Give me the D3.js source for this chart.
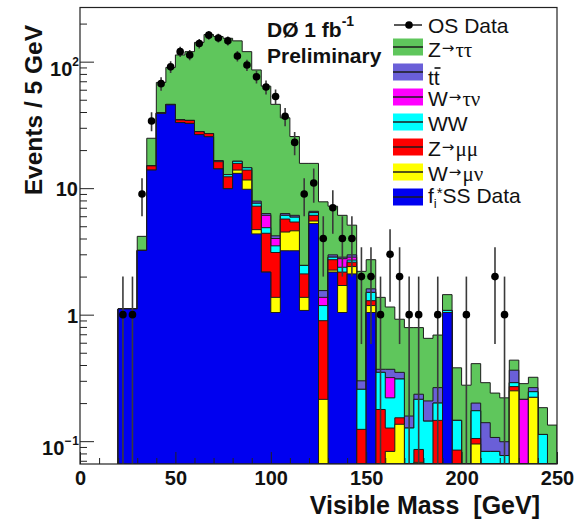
<!DOCTYPE html>
<html>
<head>
<meta charset="utf-8">
<script src="https://cdn.jsdelivr.net/npm/d3@7"></script>
<style>
  body { margin: 0; background: #fff; }
  svg text { font-family: "Liberation Sans", Arial, Helvetica, sans-serif; fill: #111; }
</style>
</head>
<body>
<svg id="chart" width="576" height="522"></svg>
<script>
// bins of 5 GeV, low edges
const binLow = [20, 25, 30, 35, 40, 45, 50, 55, 60, 65, 70, 75, 80, 85, 90, 95, 100, 105, 110, 115,
    120, 125, 130, 135, 140, 145, 150, 155, 160, 165, 170, 175, 180, 185, 190, 195, 200, 205, 210, 215,
    220, 225, 230, 235, 240, 245];

// stacked backgrounds, bottom to top
const ssData = [1.11, 1.11, 3.22, 13.9, 39, 45.6, 33, 32.5, 26.5, 25.5, 14.2, 9.9, 13.1, 9.8, 4.35, 2.17, 1.04, 3.2, 3.2, 1.08,
    5.25, 0, 2.17, 1.04, 2.1, 0, 1.04, 0, 0, 0, 0, 0, 0, 0, 1.04, 0, 0, 0, 0, 0, 0, 0, 0, 0, 0, 0];
const wMuNu = [0, 0, 0, 0, 0, 0, 0, 0, 0, 0, 0, 0, 0.8, 1.8, 0.35, 0, 0.33, 1.3, 1.4, 0.29,
    0.25, 0.214, 0.08, 0.66, 0.3, 0, 0.14, 0, 0.083, 0.136, 0, 0.068, 0, 0, 0, 0, 0, 0.095, 0, 0, 0, 0.25, 0, 0.222, 0, 0];
const zMuMu = [0, 0, 0, 1.1, 0.3, 0.3, 1.6, 1.8, 1.5, 1.5, 2.0, 2.4, 1.8, 2.3, 2.5, 2.23, 1.73, 1.2, 0.8, 0.73,
    0.6, 0.682, 0.47, 0.47, 0.2, 0.124, 0.11, 0.178, 0.044, 0.017, 0, 0.018, 0, 0.146, 0, 0.085, 0, 0.01, 0, 0, 0, 0.02, 0, 0, 0, 0];
const ww = [0, 0, 0, 0, 0, 0, 0, 0, 0, 0, 0.3, 0.5, 0.6, 0.6, 0.4, 0.47, 0.4, 0.4, 0.5, 0.35,
    0.3, 0.284, 0.13, 0.2, 0.1, 0.133, 0.21, 0.172, 0.093, 0.157, 0.127, 0.128, 0.144, 0.054, 0.04, 0.061, 0, 0.069, 0.083, 0.083, 0.077, 0.02, 0, 0.024, 0.113, 0];
const wTauNu = [0, 0, 0, 0, 0, 0, 0, 0, 0, 0, 0, 0, 0, 0, 0, 1.23, 0.5, 0, 0, 0,
    0, 0.19, 0, 0.4, 0.15, 0, 0, 0, 0.098, 0, 0, 0, 0, 0, 0, 0, 0, 0, 0, 0, 0, 0, 0.214, 0, 0, 0];
const ttbar = [0, 0, 0, 0, 0, 0, 0, 0, 0, 0, 0, 0, 0, 0, 0.3, 0.2, 0.2, 0.2, 0.2, 0,
    0.16, 0.18, 0.12, 0.08, 0.12, 0.043, 0.1, 0.02, 0.052, 0.04, 0.031, 0.021, 0.064, 0.065, 0, 0, 0, 0.026, 0.057, 0.024, 0.022, 0.074, 0, 0.019, 0, 0];
const zTauTau = [0, 0, 0.94, 9.8, 29.2, 44.1, 78.4, 85.7, 114, 137, 141.5, 140.2, 129.7, 105.5, 78.1, 57.7, 41.8, 29.7, 19.5, 13.25,
    9.14, 6.25, 4.23, 3.25, 2.13, 1.9, 1.12, 1.0, 0.78, 0.57, 0.632, 0.555, 0.442, 0.425, 0.36, 0.234, 0.277, 0.21, 0.15, 0.133, 0.121, 0.073, 0.071, 0.055, 0.071, 0.134];

// opposite-sign data counts
const osData = [1, 1, 9, 34, 67, 91, 120, 113, 139, 162, 154, 146, 111, 94, 76, 63, 53, 37, 23, 9,
    11, 4, 7, 4, 4, 2, 2, 1, 3, 2, 1, 1, 0, 1, 0, 0, 1, 0, 0, 2, 1, 0, 0, 0, 0, 0];

const xTickValues = [0, 50, 100, 150, 200, 250];
const yTickValues = [0.1, 1, 10, 100];
const yTickText = [['10', '-1'], ['1', ''], ['10', ''], ['10', '2']];

const binWidth = 5;
const xMax = 250;
const yMin = 0.066, yMax = 268;

const keys = ['ss', 'wmn', 'zmm', 'ww', 'wtn', 'tt', 'ztt'];
const colors = {
    ss: '#0000f0', wmn: '#ffff00', zmm: '#ff0000', ww: '#00ffff',
    wtn: '#ff00ff', tt: '#6a5fd8', ztt: '#5fc65c'
};

const svg = d3.select('#chart');
const frameL = 80, frameR = 557, frameT = 7.5, frameB = 464;

const x = d3.scaleLinear().domain([0, xMax]).range([frameL, frameR]);
const y = d3.scaleLog().domain([yMin, yMax]).range([frameB, frameT]).clamp(true);
const yv = v => y(Math.max(v, yMin));

svg.append('defs').append('clipPath').attr('id', 'frame-clip')
    .append('rect').attr('x', frameL).attr('y', frameT)
    .attr('width', frameR - frameL).attr('height', frameB - frameT);

// Stack
const rows = binLow.map((lo, i) => ({
    lo, ss: ssData[i], wmn: wMuNu[i], zmm: zMuMu[i], ww: ww[i],
    wtn: wTauNu[i], tt: ttbar[i], ztt: zTauTau[i]
}));
const layers = d3.stack().keys(keys)(rows);

const area = d3.area()
    .curve(d3.curveStepAfter)
    .x(d => x(d.lo))
    .y0(frameB)
    .y1(d => yv(d.top));

const plot = svg.append('g').attr('clip-path', 'url(#frame-clip)');

// draw cumulative histograms from the top of the stack down (THStack style)
layers.slice().reverse().forEach(layer => {
    const steps = layer.map((d, i) => ({ lo: binLow[i], top: d[1] }));
    steps.push({ lo: binLow[binLow.length - 1] + binWidth, top: steps[steps.length - 1].top });
    plot.append('path')
        .datum(steps)
        .attr('d', area)
        .attr('fill', colors[layer.key])
        .attr('stroke', '#1c1c1c')
        .attr('stroke-width', 1);
});

// Data points with sqrt(N) errors
const pts = binLow.map((lo, i) => ({ xc: lo + binWidth / 2, n: osData[i] })).filter(d => d.n > 0);
plot.selectAll('line.err').data(pts).enter().append('line')
    .attr('class', 'err')
    .attr('x1', d => x(d.xc)).attr('x2', d => x(d.xc))
    .attr('y1', d => yv(d.n + Math.sqrt(d.n)))
    .attr('y2', d => yv(d.n - Math.sqrt(d.n)))
    .attr('stroke', '#3a3a3a').attr('stroke-width', 1.6);
plot.selectAll('circle.pt').data(pts).enter().append('circle')
    .attr('class', 'pt')
    .attr('cx', d => x(d.xc)).attr('cy', d => yv(d.n))
    .attr('r', 3.8).attr('fill', '#000');

// Axes (ticks inside the frame)
const gx = svg.append('g').attr('transform', `translate(0,${frameB})`)
    .call(d3.axisBottom(x).tickValues(xTickValues).tickSize(-12).tickPadding(6.5).tickFormat(d3.format('d')));
svg.append('g').attr('transform', `translate(0,${frameB})`)
    .call(d3.axisBottom(x).tickValues(x.ticks(25).filter(v => v % 50 !== 0)).tickSize(-6).tickFormat(''));
svg.append('g').attr('transform', `translate(${frameL},0)`)
    .call(d3.axisLeft(y).tickValues(yTickValues).tickSize(-14).tickFormat(''));
svg.append('g').attr('transform', `translate(${frameL},0)`)
    .call(d3.axisLeft(y).tickValues(y.ticks().filter(v => !yTickValues.some(t => Math.abs(t - v) < 1e-9))).tickSize(-7).tickFormat(''));

svg.selectAll('.domain').remove();
svg.selectAll('.tick line').attr('stroke', '#222').attr('stroke-width', 1);
gx.selectAll('text')
    .style('font-size', '20px').style('font-weight', 'bold').attr('fill', '#111');

// Y tick labels with exponents
yTickValues.forEach((v, i) => {
    const [base, exp] = yTickText[i];
    const t = svg.append('text')
        .attr('x', exp ? 79 : 78)
        .attr('y', y(v) + (exp ? 14 : 8))
        .attr('text-anchor', 'end')
        .style('font-size', '20px').style('font-weight', 'bold')
        .text(base);
    if (exp) {
        t.append('tspan').attr('dy', -10)
            .style('font-size', '12px').text(exp === '-1' ? '\u2212\u200a1' : exp);
    }
});

// Frame
svg.append('rect')
    .attr('x', frameL).attr('y', frameT)
    .attr('width', frameR - frameL).attr('height', frameB - frameT)
    .attr('fill', 'none').attr('stroke', '#222').attr('stroke-width', 1.2);

// Axis titles
svg.append('text')
    .attr('x', 540).attr('y', 514)
    .attr('text-anchor', 'end')
    .style('font-size', '25px').style('font-weight', 'bold')
    .text('Visible Mass\u00a0\u00a0[GeV]');
svg.append('text')
    .attr('transform', 'translate(42,25) rotate(-90)')
    .attr('text-anchor', 'end')
    .style('font-size', '24.5px').style('font-weight', 'bold')
    .text('Events / 5 GeV');

// Experiment label
const lbl = svg.append('text').attr('x', 267).attr('y', 37)
    .style('font-size', '21px').style('font-weight', 'bold').text('D\u00d8 1 fb');
lbl.append('tspan').attr('dy', -11).style('font-size', '14px').text('-1');
svg.append('text').attr('x', 267).attr('y', 63)
    .style('font-size', '21px').style('font-weight', 'bold').text('Preliminary');

// Legend
const serif = '"Liberation Serif", "DejaVu Serif", serif';
const legendItems = [
    { key: 'data', parts: [['OS Data']] },
    { key: 'ztt', parts: [['Z'], ['\u2192', 'arrow'], ['\u03c4\u03c4', 'greek']] },
    { key: 'tt', parts: [['tt']] },
    { key: 'wtn', parts: [['W'], ['\u2192', 'arrow'], ['\u03c4\u03bd', 'greek']] },
    { key: 'ww', parts: [['WW']] },
    { key: 'zmm', parts: [['Z'], ['\u2192', 'arrow'], ['\u03bc\u03bc', 'greek']] },
    { key: 'wmn', parts: [['W'], ['\u2192', 'arrow'], ['\u03bc\u03bd', 'greek']] },
    { key: 'ss', parts: [['f'], ['i', 'sub'], ['*', 'sup'], ['SS Data', 'back']] }
];
const legendY = [25, 47, 72, 97, 122, 147, 172, 197];
const legendBase = [33, 57, 85, 106, 131, 156, 181, 203];

const lg = svg.append('g');
legendItems.forEach((item, i) => {
    const cy = legendY[i];
    if (item.key === 'data') {
        lg.append('line').attr('x1', 394).attr('x2', 422).attr('y1', cy).attr('y2', cy)
            .attr('stroke', '#222').attr('stroke-width', 1.5);
        lg.append('circle').attr('cx', 409).attr('cy', cy).attr('r', 3.8).attr('fill', '#000');
    } else {
        lg.append('rect').attr('x', 393).attr('y', cy - 8.5).attr('width', 30).attr('height', 17)
            .attr('fill', colors[item.key]);
        lg.append('line').attr('x1', 393).attr('x2', 423).attr('y1', cy).attr('y2', cy)
            .attr('stroke', '#1c1c1c').attr('stroke-width', 1.5);
    }
    const t = lg.append('text').attr('x', 428).attr('y', legendBase[i]).style('font-size', '21px');
    item.parts.forEach(([s, kind]) => {
        const sp = t.append('tspan').text(s);
        if (kind === 'arrow') sp.style('font-family', '"DejaVu Sans", sans-serif').style('font-size', '15px').attr('dy', -4).attr('dx', 1);
        if (kind === 'greek') sp.style('font-family', serif).attr('dy', 4).attr('dx', 1);
        if (kind === 'sub') sp.style('font-size', '13px').attr('dy', 5);
        if (kind === 'sup') sp.style('font-size', '15px').attr('dy', -10);
        if (kind === 'back') sp.attr('dy', 5);
    });
    if (item.key === 'tt') {
        lg.append('line').attr('x1', 434.5).attr('x2', 440.5).attr('y1', 68).attr('y2', 68)
            .attr('stroke', '#111').attr('stroke-width', 1.6);
    }
});
</script>
</body>
</html>
